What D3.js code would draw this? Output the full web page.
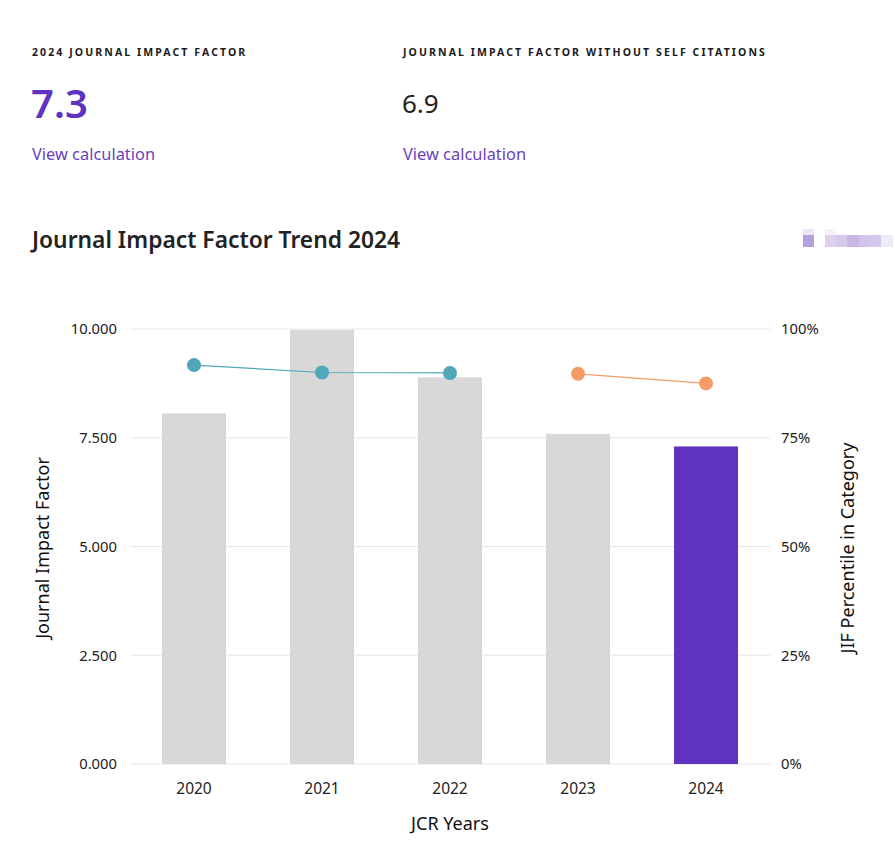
<!DOCTYPE html>
<html><head><meta charset="utf-8">
<script src="https://cdn.jsdelivr.net/npm/d3@7"></script>
<style>
body{margin:0;background:#fff;}
svg{display:block;}
</style></head>
<body>
<svg id="c" width="895" height="861"></svg>
<script>
const years = ["2020","2021","2022","2023","2024"];
const jifValues = [8.06, 9.98, 8.89, 7.59, 7.3];
const percentileA = [{year:"2020",v:91.7},{year:"2021",v:90.0},{year:"2022",v:89.9}];
const percentileB = [{year:"2023",v:89.7},{year:"2024",v:87.5}];
const leftTicks = [0, 2.5, 5, 7.5, 10];
const rightTicks = [0, 25, 50, 75, 100];
const headline = [
  {label:"2024 JOURNAL IMPACT FACTOR", value:"7.3", link:"View calculation"},
  {label:"JOURNAL IMPACT FACTOR WITHOUT SELF CITATIONS", value:"6.9", link:"View calculation"}
];

const svg = d3.select("#c");
const font = "'Noto Sans', 'Open Sans', sans-serif";
const purple = "#5f33bf";

// header
const hx = [32, 403];
headline.forEach((h,i)=>{
  svg.append("text").attr("x",hx[i]).attr("y",56).text(h.label)
    .attr("font-family",font).attr("font-size",10.5).attr("font-weight",700)
    .attr("letter-spacing",2.1).attr("fill","#1a1a1a");
  svg.append("text").attr("x",hx[i]-1).attr("y",i==0?118:113).text(h.value)
    .attr("font-family",font).attr("font-size",i==0?40:26).attr("font-weight",i==0?600:400)
    .attr("fill",i==0?purple:"#222");
  svg.append("text").attr("x",hx[i]).attr("y",160).text(h.link)
    .attr("font-family",font).attr("font-size",16.4).attr("fill","#6a3fc0");
});

svg.append("text").attr("x",32).attr("y",248).text("Journal Impact Factor Trend 2024")
  .attr("font-family",font).attr("font-size",22.8).attr("font-weight",600).attr("fill","#222");

// blurred legend placeholder
const blur = [[803,235,11,12,"#b3a0e0"],[825,235,11,12,"#ddd0ec"],[836,235,11,12,"#d3c9ec"],[847,235,12,12,"#c8b6e6"],[859,235,11,12,"#d1c5eb"],[870,235,11,12,"#d3c9ec"],[881,235,12,12,"#eeebf8"],[803,229,11,6,"#eae5f6"],[825,229,11,6,"#f5f0fa"]];
svg.append("g").selectAll("rect").data(blur).join("rect")
  .attr("x",d=>d[0]).attr("y",d=>d[1]).attr("width",d=>d[2]).attr("height",d=>d[3]).attr("fill",d=>d[4]);

// scales
const x = d3.scaleBand().domain(years).range([130,770]).paddingInner(0.5).paddingOuter(0.25);
const y = d3.scaleLinear().domain([0,10]).range([764,329]);
const yp = d3.scaleLinear().domain([0,100]).range([764,329]);

// grid
svg.append("g").selectAll("line").data(leftTicks).join("line")
  .attr("x1",130).attr("x2",770).attr("y1",d=>y(d)).attr("y2",d=>y(d))
  .attr("stroke","#e6e6e6").attr("stroke-width",1);

// bars
svg.append("g").selectAll("rect").data(years).join("rect")
  .attr("x",d=>x(d)).attr("width",x.bandwidth())
  .attr("y",(d,i)=>y(jifValues[i])).attr("height",(d,i)=>y(0)-y(jifValues[i]))
  .attr("fill",(d,i)=>i===years.length-1?purple:"#d8d8d8");

// axes
const leftAxis = svg.append("g").attr("transform","translate(117,0)")
  .call(d3.axisLeft(y).tickValues(leftTicks).tickFormat(d3.format(".3f")).tickSize(0));
const rightAxis = svg.append("g").attr("transform","translate(781,0)")
  .call(d3.axisRight(yp).tickValues(rightTicks).tickFormat(d=>d+"%").tickSize(0));
const bottomAxis = svg.append("g").attr("transform","translate(0,776)")
  .call(d3.axisBottom(x).tickSize(0));
[leftAxis,rightAxis,bottomAxis].forEach(a=>{
  a.select(".domain").remove();
  a.selectAll("text").attr("font-family",font).attr("font-size",14.8).attr("fill","#222");
});
leftAxis.selectAll("text").attr("dx",0).attr("x",0);
rightAxis.selectAll("text").attr("x",0);
bottomAxis.selectAll("text").attr("dy","0.71em").attr("y",7).attr("font-size",15.5);

// lines
const cx = d=>x(d.year)+x.bandwidth()/2;
const line = d3.line().x(cx).y(d=>yp(d.v));
[[percentileA,"#4fa7b9"],[percentileB,"#f59b68"]].forEach(([data,col])=>{
  svg.append("path").datum(data).attr("d",line).attr("fill","none").attr("stroke",col).attr("stroke-width",1.2);
  svg.append("g").selectAll("circle").data(data).join("circle")
    .attr("cx",cx).attr("cy",d=>yp(d.v)).attr("r",7).attr("fill",col);
});

// axis titles
svg.append("text").attr("transform","translate(49,548) rotate(-90)").attr("text-anchor","middle")
  .text("Journal Impact Factor").attr("font-family",font).attr("font-size",18).attr("fill","#111");
svg.append("text").attr("transform","translate(854,548) rotate(-90)").attr("text-anchor","middle")
  .text("JIF Percentile in Category").attr("font-family",font).attr("font-size",18).attr("fill","#111");
svg.append("text").attr("x",450).attr("y",830).attr("text-anchor","middle")
  .text("JCR Years").attr("font-family",font).attr("font-size",18).attr("fill","#111");
</script>
</body></html>
